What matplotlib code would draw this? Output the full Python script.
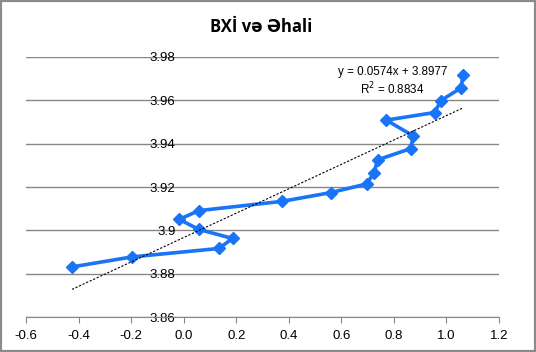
import numpy as np
import matplotlib.pyplot as plt
from matplotlib.patches import Rectangle

# values, in drawing order
bxi = [-0.425, -0.197, 0.134, 0.186, 0.057, -0.017, 0.057, 0.375, 0.559, 0.696,
       0.725, 0.738, 0.864, 0.874, 0.771, 0.955, 0.979, 1.055, 1.064]
ehali = [3.8832, 3.8878, 3.8917, 3.8963, 3.9005, 3.9051, 3.9091, 3.9134, 3.9174, 3.9214,
         3.9266, 3.9325, 3.9377, 3.9435, 3.9508, 3.9543, 3.9598, 3.9656, 3.9717]
x_ticks = [-0.6, -0.4, -0.2, 0.0, 0.2, 0.4, 0.6, 0.8, 1.0, 1.2]
y_ticks = [3.86, 3.88, 3.90, 3.92, 3.94, 3.96, 3.98]
title = 'BXİ və Əhali'
eq_text = 'y = 0.0574x + 3.8977\nR$^2$ = 0.8834'

plt.rcParams['font.family'] = ['Open Sans', 'DejaVu Sans']

fig = plt.figure(figsize=(5.36, 3.52), dpi=100)
ax = fig.add_axes([26 / 536, 1 - 317.3 / 352, 473 / 536, 260.6 / 352])

X = np.array(bxi)
Y = np.array(ehali)
ax.plot(X, Y, '-D', color='#1a74f7', lw=2.6, ms=6.5, zorder=3)

# linear trend line over data range
k, b = np.polyfit(X, Y, 1)
tX = np.array([X.min(), X.max()])
ax.plot(tX, k * tX + b, color='black', lw=0.8, ls=(0, (2, 1.5)), zorder=4)

ax.text(0.795, 3.9685, eq_text, ha='center', va='center', fontsize=8.4,
        linespacing=1.2, family=['Liberation Sans', 'DejaVu Sans'])

ax.set_xlim(-0.6, 1.2)
ax.set_ylim(3.86, 3.98)
ax.set_xticks(x_ticks)
ax.set_xticklabels(['%.1f' % v for v in x_ticks])
ax.set_yticks(y_ticks)
ax.set_yticklabels([('%.2f' % v).rstrip('0').rstrip('.') for v in y_ticks])

ax.grid(True, axis='y', color='#878787', lw=1)
for s in ['top', 'right']:
  ax.spines[s].set_visible(False)
ax.spines['left'].set_position(('data', 0))
ax.spines['left'].set_color('none')
ax.spines['bottom'].set_color('#878787')
ax.tick_params(axis='y', length=0, pad=6, labelsize=9.5)
ax.tick_params(axis='x', length=4, color='#878787', labelsize=9.5, pad=5)
for t in ax.get_xticklabels() + ax.get_yticklabels():
  t.set_family(['Liberation Sans', 'DejaVu Sans'])

fig.text(261.5 / 536, 1 - 27 / 352, title, ha='center', va='center', fontsize=12, fontweight='bold')

fig.patches.append(Rectangle((0, 0), 1, 1, transform=fig.transFigure, fill=False,
                             edgecolor='#8a8a8a', lw=3))

fig.savefig('out.png', dpi=100)
